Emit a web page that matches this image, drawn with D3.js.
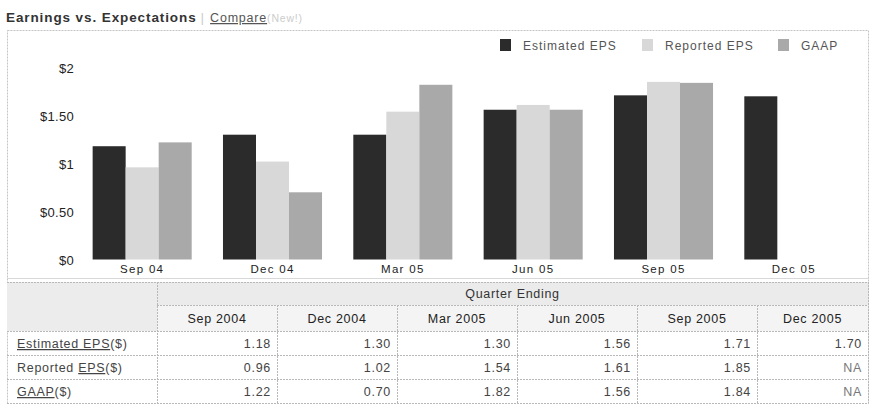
<!DOCTYPE html>
<html>
<head>
<meta charset="utf-8">
<script src="https://cdn.jsdelivr.net/npm/d3@7"></script>
<style>
  html, body { margin: 0; padding: 0; background: #fff; }
  svg { display: block; font-family: "Liberation Sans", Arial, sans-serif; }
</style>
</head>
<body>
<svg id="chart" width="871" height="404"></svg>
<script>
// Quarterly earnings per share
const quarters      = ["Sep 04", "Dec 04", "Mar 05", "Jun 05", "Sep 05", "Dec 05"];
const quarterLabels = ["Sep 2004", "Dec 2004", "Mar 2005", "Jun 2005", "Sep 2005", "Dec 2005"];
const estimatedEPS  = [1.18, 1.30, 1.30, 1.56, 1.71, 1.70];
const reportedEPS   = [0.96, 1.02, 1.54, 1.61, 1.85, null];
const gaapEPS       = [1.22, 0.70, 1.82, 1.56, 1.84, null];
const seriesNames   = ["Estimated EPS", "Reported EPS", "GAAP"];
const yTicks        = [0, 0.5, 1, 1.5, 2];
const yTickLabels   = ["$0", "$0.50", "$1", "$1.50", "$2"];

const seriesValues = [estimatedEPS, reportedEPS, gaapEPS];
const colors = ["#2b2b2b", "#d8d8d8", "#a9a9a9"];

const svg = d3.select("#chart");

// Header line: title and link
const head = svg.append("text").attr("x", 6).attr("y", 22)
  .style("font-size", "13.5px");
head.append("tspan").text("Earnings vs. Expectations")
  .style("font-weight", "bold").style("fill", "#333").style("letter-spacing", "0.9px");
head.append("tspan").attr("dx", 4).text("|").style("fill", "#ccc");
head.append("tspan").attr("dx", 6).text("Compare").style("fill", "#555")
  .style("font-size", "12.5px").style("letter-spacing", "0.8px").style("text-decoration", "underline");
head.append("tspan").text("(New!)").style("fill", "#ccc").style("font-size", "10.5px")
  .style("letter-spacing", "0.8px");

// Outer frame
svg.append("rect").attr("x", 7.5).attr("y", 30.5).attr("width", 861).attr("height", 380)
  .attr("fill", "none").attr("stroke", "#c4c4c4").attr("stroke-dasharray", "2,1");

// Scales
const x = d3.scaleBand().domain(quarters).range([77, 859])
  .paddingInner(0.24).paddingOuter(0.12);
const xs = d3.scaleBand().domain(seriesNames).range([0, x.bandwidth()]);
const y = d3.scaleLinear().domain([0, 2]).range([259.5, 67.5]);

// Y axis labels
const yAxis = d3.axisLeft(y).tickValues(yTicks)
  .tickFormat((d, i) => yTickLabels[i]).tickSize(0).tickPadding(0);
const yg = svg.append("g").attr("transform", "translate(74,1)").call(yAxis);
yg.select(".domain").remove();
yg.selectAll("text").style("font-size", "13px").style("fill", "#222")
  .style("letter-spacing", "0.3px")
  .style("font-family", "'Liberation Sans', Arial, sans-serif");

// Bars
const groups = svg.append("g").selectAll("g").data(quarters).join("g")
  .attr("transform", d => `translate(${x(d)},0)`);
groups.selectAll("rect")
  .data((q, qi) => seriesNames.map((s, si) => ({ s, si, v: seriesValues[si][qi] }))
    .filter(d => d.v != null))
  .join("rect")
  .attr("x", d => xs(d.s))
  .attr("width", xs.bandwidth())
  .attr("y", d => y(d.v))
  .attr("height", d => y(0) - y(d.v))
  .attr("fill", d => colors[d.si]);

// X axis labels
const xAxis = d3.axisBottom(x).tickSize(0).tickPadding(0);
const xg = svg.append("g").attr("transform", "translate(0,265)").call(xAxis);
xg.select(".domain").remove();
xg.selectAll("text").style("font-size", "11.5px").style("fill", "#222")
  .style("letter-spacing", "1.3px")
  .style("font-family", "'Liberation Sans', Arial, sans-serif");

// Legend
const legendX = [500, 642, 778];
const leg = svg.append("g").selectAll("g").data(seriesNames).join("g")
  .attr("transform", (d, i) => `translate(${legendX[i]},39)`);
leg.append("rect").attr("width", 11).attr("height", 12)
  .attr("fill", (d, i) => colors[i]);
leg.append("text").attr("x", 23).attr("y", 11).text(d => d)
  .style("font-size", "12px").style("fill", "#555").style("letter-spacing", "1px");

// Divider under plot area
svg.append("line").attr("x1", 7).attr("x2", 869).attr("y1", 278.5).attr("y2", 278.5)
  .attr("stroke", "#d8d8d8");

// Data table
const colX = [7, 157, 277, 397, 517, 637, 757, 868];
const rowY = [282, 305, 331, 355, 379, 403];
const tbl = svg.append("g");

tbl.append("rect").attr("x", colX[0]).attr("y", rowY[0])
  .attr("width", colX[1] - colX[0]).attr("height", rowY[2] - rowY[0]).attr("fill", "#ececec");
tbl.append("rect").attr("x", colX[1]).attr("y", rowY[0])
  .attr("width", colX[7] - colX[1]).attr("height", rowY[1] - rowY[0]).attr("fill", "#ebebeb");
tbl.selectAll(".hdr").data(quarterLabels).join("rect")
  .attr("x", (d, i) => colX[i + 1]).attr("y", rowY[1])
  .attr("width", (d, i) => colX[i + 2] - colX[i + 1]).attr("height", rowY[2] - rowY[1])
  .attr("fill", "#f4f4f4");

// Grid lines
const grid = tbl.append("g").attr("stroke", "#b8b8b8").attr("stroke-dasharray", "2,1");
grid.append("line").attr("x1", colX[0]).attr("x2", colX[7]).attr("y1", rowY[0] + 0.5).attr("y2", rowY[0] + 0.5);
grid.append("line").attr("x1", colX[1]).attr("x2", colX[7]).attr("y1", rowY[1] + 0.5).attr("y2", rowY[1] + 0.5);
grid.selectAll(".h").data(rowY.slice(2)).join("line")
  .attr("x1", colX[0]).attr("x2", colX[7]).attr("y1", d => d + 0.5).attr("y2", d => d + 0.5);
grid.append("line").attr("x1", colX[1] + 0.5).attr("x2", colX[1] + 0.5).attr("y1", rowY[0]).attr("y2", rowY[5]);
grid.selectAll(".v").data(colX.slice(2, 7)).join("line")
  .attr("x1", d => d + 0.5).attr("x2", d => d + 0.5).attr("y1", rowY[1]).attr("y2", rowY[5]);
grid.append("line").attr("x1", colX[7] + 0.5).attr("x2", colX[7] + 0.5).attr("y1", rowY[0]).attr("y2", rowY[5]);

const cellFont = t => t.style("font-size", "12.5px").style("letter-spacing", "0.7px");

tbl.append("text").attr("x", (colX[1] + colX[7]) / 2).attr("y", rowY[0] + 16)
  .attr("text-anchor", "middle").text("Quarter Ending")
  .style("fill", "#333").call(cellFont);

tbl.selectAll(".hdrText").data(quarterLabels).join("text")
  .attr("x", (d, i) => (colX[i + 1] + colX[i + 2]) / 2).attr("y", rowY[1] + 18)
  .attr("text-anchor", "middle").text(d => d)
  .style("fill", "#222").call(cellFont);

// Row labels: linked parts are underlined
const rowLabelParts = [
  [["Estimated EPS", true], ["($)", false]],
  [["Reported ", false], ["EPS", true], ["($)", false]],
  [["GAAP", true], ["($)", false]]
];
rowLabelParts.forEach((parts, r) => {
  const t = tbl.append("text").attr("x", 17).attr("y", rowY[r + 2] + 17)
    .style("fill", "#444").call(cellFont);
  parts.forEach(([txt, link]) => {
    t.append("tspan").text(txt).style("text-decoration", link ? "underline" : "none");
  });
});

seriesValues.forEach((vals, r) => {
  tbl.selectAll(null).data(vals).join("text")
    .attr("x", (d, i) => colX[i + 2] - 6).attr("y", rowY[r + 2] + 17)
    .attr("text-anchor", "end")
    .text(d => d == null ? "NA" : d.toFixed(2))
    .style("fill", d => d == null ? "#777" : "#444").call(cellFont);
});
</script>
</body>
</html>
